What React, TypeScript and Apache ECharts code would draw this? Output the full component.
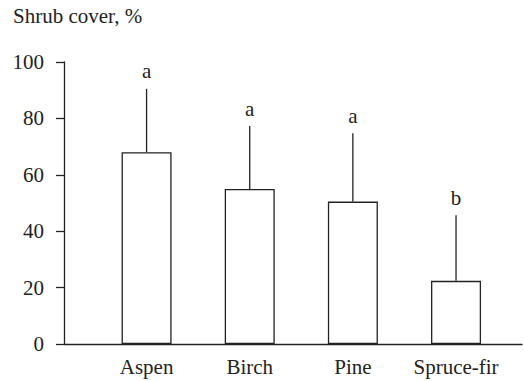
import React, { useEffect, useRef } from "react";
import * as echarts from "echarts";

const categories = ["Aspen", "Birch", "Pine", "Spruce-fir"];
const meanCover = [68, 55, 50.5, 22.4];
const upperCover = [90.5, 77.3, 74.7, 45.7];
const groupLetters = ["a", "a", "a", "b"];
const yTicks = { min: 0, max: 100, interval: 20 };

const FONT = "Liberation Serif";
const INK = "#222";

export default function App() {
  const ref = useRef<HTMLDivElement>(null);
  useEffect(() => {
    document.body.style.margin = "0";
    const chart = echarts.init(ref.current!, null, { renderer: "svg" });
    const errData = categories.map((c, i) => [i, meanCover[i], upperCover[i]]);
    chart.setOption({
      animation: false,
      backgroundColor: "#fff",
      textStyle: { fontFamily: FONT },
      title: {
        text: "Shrub cover, %",
        left: 13,
        top: 5,
        padding: 0,
        textStyle: { fontFamily: FONT, fontSize: 21, fontWeight: "normal", color: INK },
      },
      grid: [
        { left: 64, right: 2, top: 62, bottom: 37 },
        { left: 95, right: 16.4, top: 62, bottom: 37 },
      ],
      xAxis: [
        {
          type: "value",
          gridIndex: 0,
          min: 0,
          max: 1,
          axisLine: { show: true, lineStyle: { color: INK, width: 1.3 } },
          axisTick: { show: false },
          axisLabel: { show: false },
          splitLine: { show: false },
        },
        {
          type: "category",
          gridIndex: 1,
          data: categories,
          axisLine: { show: false },
          axisTick: { show: false },
          axisLabel: { interval: 0, margin: 12, fontFamily: FONT, fontSize: 21, color: INK },
        },
      ],
      yAxis: [
        {
          type: "value",
          gridIndex: 0,
          min: yTicks.min,
          max: yTicks.max,
          interval: yTicks.interval,
          axisLine: { show: true, lineStyle: { color: INK, width: 1.3 } },
          axisTick: { show: true, inside: false, length: 8, lineStyle: { color: INK, width: 1.3 } },
          axisLabel: { margin: 20, fontFamily: FONT, fontSize: 21, color: INK },
          splitLine: { show: false },
        },
        {
          type: "value",
          gridIndex: 1,
          min: yTicks.min,
          max: yTicks.max,
          show: false,
        },
      ],
      series: [
        {
          type: "bar",
          xAxisIndex: 1,
          yAxisIndex: 1,
          data: meanCover,
          barWidth: 50,
          itemStyle: { color: "#fff", borderColor: INK, borderWidth: 1.3 },
        },
        {
          type: "custom",
          xAxisIndex: 1,
          yAxisIndex: 1,
          data: errData,
          renderItem: (params: any, api: any) => {
            const x = api.value(0);
            const p0 = api.coord([x, api.value(1)]);
            const p1 = api.coord([x, api.value(2)]);
            return {
              type: "group",
              children: [
                {
                  type: "line",
                  shape: { x1: p0[0], y1: p0[1], x2: p1[0], y2: p1[1] },
                  style: { stroke: INK, lineWidth: 1.3 },
                },
                {
                  type: "text",
                  x: p1[0],
                  y: p1[1] - 7,
                  style: {
                    text: groupLetters[params.dataIndex],
                    fontFamily: FONT,
                    fontSize: 21,
                    fill: INK,
                    align: "center",
                    verticalAlign: "bottom",
                  },
                },
              ],
            };
          },
        },
      ],
    });
    return () => chart.dispose();
  }, []);
  return <div ref={ref} style={{ width: 524, height: 381 }} />;
}
